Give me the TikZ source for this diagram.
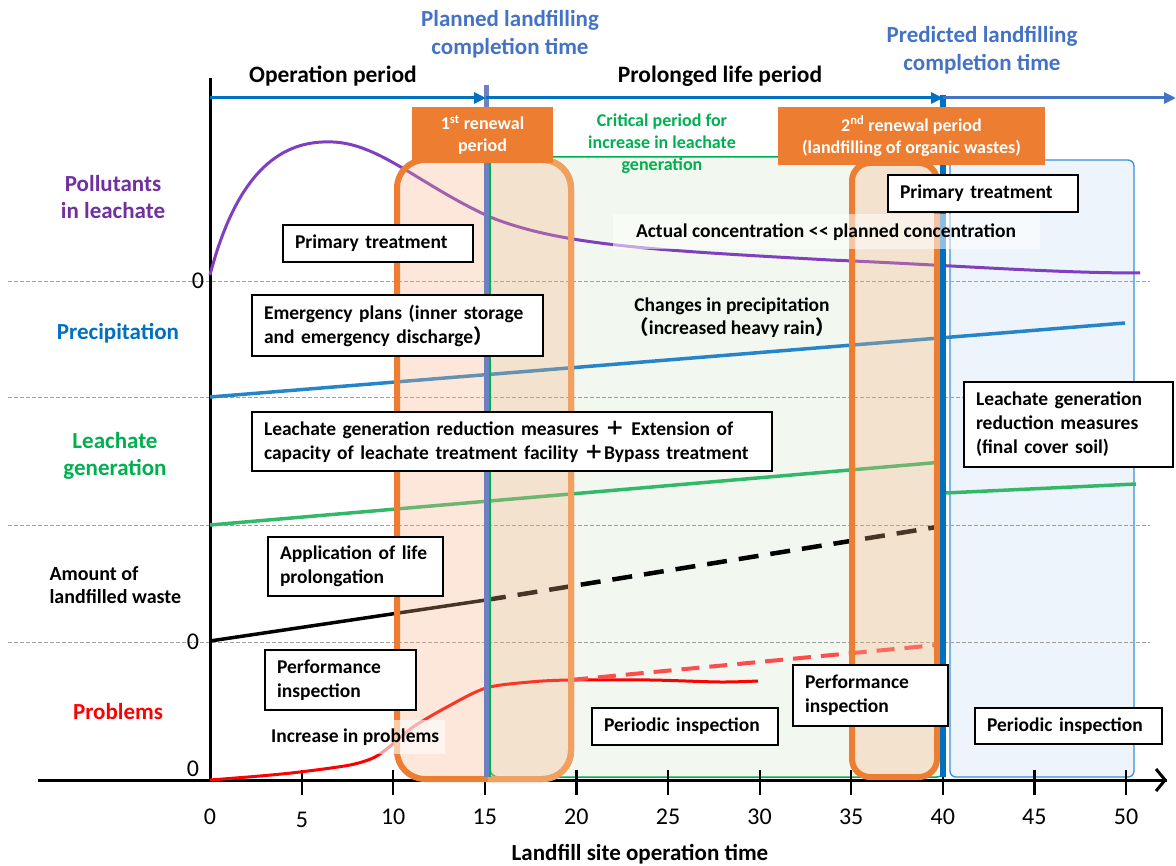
\documentclass[tikz,border=0pt]{standalone}
\usepackage{fontspec}
\setmainfont{Carlito}
\newfontfamily\cjk{Noto Sans CJK JP}
\usetikzlibrary{arrows.meta}
\definecolor{orng}{HTML}{ED7D31}
\definecolor{orngl}{HTML}{F0A060}
\definecolor{orngfill}{HTML}{F4B183}
\definecolor{blu}{HTML}{0070C0}
\definecolor{blut}{HTML}{4472C4}
\definecolor{purp}{HTML}{7030A0}
\definecolor{purpl}{HTML}{7F3FBF}
\definecolor{grn}{HTML}{00B050}
\definecolor{grnl}{HTML}{33B86A}
\definecolor{slate}{HTML}{6E80C2}
\definecolor{critfill}{HTML}{F2F8EF}
\definecolor{bluefill}{HTML}{EEF4FB}
\definecolor{blueedge}{HTML}{3A8EDA}
\newcommand\fsz[2]{\fontsize{#1}{#2}\selectfont}
\tikzset{
  box/.style={draw=black, line width=1.3pt, fill=white, font=\fsz{19.5}{24}\bfseries, inner xsep=12pt, inner ysep=2pt, align=left},
  cat/.style={font=\fsz{23}{27}\bfseries, align=center},
  ttl/.style={font=\fsz{23}{28}\bfseries, align=center, text=blut},
  hdr/.style={fill=orng, text=white, font=\fsz{18}{22}\bfseries, align=center, inner sep=0pt},
  tick/.style={font=\fsz{24}{26}},
  gl/.style={gray!75, line width=0.8pt, dash pattern=on 4pt off 2pt},
}
\begin{document}
\begin{tikzpicture}[x=1pt,y=-1pt]
\path[use as bounding box] (0,0) rectangle (1176,866);
% background regions
\draw[grn, line width=1.5pt, fill=critfill, rounded corners=8pt] (490,157) rectangle (945,777);
\draw[blueedge, line width=1.3pt, fill=bluefill, rounded corners=6pt] (950,160) rectangle (1134,777);
% dashed guide lines
\foreach \yy in {281,397,525,642} \draw[gl] (8,\yy) -- (1150,\yy);
% axes
\coordinate (o) at (210,780);
\coordinate (xend) at (1167,780);
\coordinate (ytop) at (210,78);
\draw[line width=3pt] (38,780) -- (xend);
\draw[line width=3pt, -{Straight Barb[length=9pt,width=22pt,line width=3pt]}] (1100,780) -- (xend);
\draw[line width=3pt] (o) -- (ytop);
\foreach \t in {5,10,...,50} \draw[line width=2.2pt] ({210+18.32*\t},770) -- ({210+18.32*\t},795);
\foreach \t in {0,10,15,20,25,30,35,40,45,50} \node[tick] (t\t) at ({210+18.32*\t},817) {\t};
\node[tick] (t5) at (302,820) {5};
\node[font=\fsz{23}{26}\bfseries] (xlab) at (640,854) {Landfill site operation time};
% zeros
\node[tick] (z1) at (198,281) {0};
\node[tick] (z2) at (193,642) {0};
\node[tick] (z3) at (193,769) {0};
% curves
\draw[purpl, line width=3pt] (210,275) .. controls (240,160) and (290,140) .. (333,142) .. controls (380,144) and (420,185) .. (490,217) .. controls (560,245) and (650,250) .. (830,260) .. controls (950,265) and (1050,273) .. (1140,273);
\draw[blu!85!white, line width=3.5pt] (210,397) -- (1125,323);
\draw[grnl, line width=3.5pt] (210,525) -- (943,462);
\draw[grnl, line width=3.5pt] (945,493) -- (1136,484);
\draw[black, line width=3.5pt] (210,641) -- (486,600);
\draw[black, line width=4.5pt, dash pattern=on 20pt off 12pt] (486,600) -- (943,526);
\draw[red, line width=3pt] plot[smooth, tension=0.5] coordinates {(210,780) (260,776) (300,772) (350,765) (375,757) (394,743) (413,727) (447,707) (486,688) (530,682) (570,680) (650,680) (720,682) (758,681)};
\draw[red!70!white, line width=4pt, dash pattern=on 18pt off 10pt] (570,680) -- (937,645);
% orange rounded rects
\fill[orngfill, fill opacity=0.3, rounded corners=28pt] (397,160) rectangle (571,779);
\fill[orngfill, fill opacity=0.3, rounded corners=18pt] (852,163) rectangle (937,777);
\draw[orng, line width=6pt, rounded corners=28pt] (397,160) rectangle (571,779);
\begin{scope}
\clip (488,140) rectangle (600,800);
\draw[orngl, line width=6pt, rounded corners=28pt] (397,160) rectangle (571,779);
\end{scope}
\draw[orng, line width=6pt, rounded corners=18pt] (852,163) rectangle (937,777);
% vertical period lines
\draw[slate, line width=5pt] (486,85) -- (486,777);
\draw[grn, line width=1.5pt] (490,157) -- (490,777);
\draw[blu, line width=6pt] (943,95) -- (943,777);
% top arrows
\coordinate (a0) at (210,98);
\coordinate (a1) at (486,98);
\coordinate (a2) at (943,98);
\coordinate (a3) at (1176,98);
\draw[blu, line width=3pt, -{Triangle[length=12pt,width=11pt]}] (a0) -- (a1);
\draw[blu, line width=3pt, -{Triangle[length=12pt,width=11pt]}] (a1) -- (a2);
\draw[blut, line width=3pt, -{Triangle[length=12pt,width=11pt]}] (a2) -- (a3);
% titles
\node[font=\fsz{23.5}{26}\bfseries] (op) at (333,76) {Operation period};
\node[font=\fsz{23.5}{26}\bfseries] (pl) at (720,76) {Prolonged life period};
\node[ttl] (plan) at (510,34) {Planned landfilling\\completion time};
\node[ttl] (pred) at (982,50) {Predicted landfilling\\completion time};
% headers
\node[hdr, minimum width=141pt, minimum height=56pt] (h1) at (482.5,135) {1\textsuperscript{st} renewal\\period};
\node[hdr, minimum width=267pt, minimum height=58pt] (h2) at (911.5,136) {2\textsuperscript{nd} renewal period\\(landfilling of organic wastes)};
\node[font=\fsz{18}{22}\bfseries, text=grn, align=center] (crit) at (662,144) {Critical period for\\increase in leachate\\generation};
% category labels
\node[cat, text=purp] (pol) at (113,197) {Pollutants\\in leachate};
\node[cat, text=blu] (prec) at (118,333) {Precipitation};
\node[cat, text=grn] (lea) at (115,456) {Leachate\\generation};
\node[font=\fsz{20}{23}\bfseries, align=left, anchor=west] (amt) at (46,585) {Amount of\\landfilled waste};
\node[cat, text=red] (prob) at (118,712) {Problems};
% boxes
\node[box, text width=166pt, minimum height=37pt] (b1) at (378,243.5) {Primary treatment};
\node[box, text width=267pt, minimum height=61pt] (b2) at (397.5,325.5) {Emergency plans (inner storage\\and emergency discharge{\cjk ）}};
\node[box, text width=496pt, minimum height=59pt] (b3) at (512,441.5) {Leachate generation reduction measures {\cjk ＋} Extension of\\capacity of leachate treatment facility {\cjk ＋}Bypass treatment};
\node[box, text width=151pt, minimum height=59pt] (b4) at (355.5,566.5) {Application of life\\prolongation};
\node[box, text width=127pt, minimum height=60pt] (b5) at (340.5,680) {Performance\\inspection};
\node[box, text width=162pt, minimum height=37pt] (b7) at (685,726.5) {Periodic inspection};
\node[box, text width=131pt, minimum height=61pt] (b8) at (870.5,695.5) {Performance\\inspection};
\node[box, text width=163pt, minimum height=36pt] (b9) at (1068.5,726) {Periodic inspection};
\node[box, text width=166pt, minimum height=37pt] (b10) at (983,193.5) {Primary treatment};
\node[box, text width=185pt, minimum height=85pt] (b11) at (1068.5,424.5) {Leachate generation\\reduction measures\\(final cover soil)};
% free labels
\node[fill=white, fill opacity=0.6, text opacity=1, font=\fsz{19.5}{22}\bfseries, anchor=west, inner xsep=6pt, minimum height=34pt] (inc) at (265,737) {Increase in problems};
\node[fill=white, fill opacity=0.55, text opacity=1, font=\fsz{19.5}{22}\bfseries, minimum width=427pt, minimum height=35pt] (act) at (826,232) {Actual concentration <\kern0.5pt< planned concentration};
\node[font=\fsz{19.5}{23}\bfseries, align=center] (chg) at (732,318) {Changes in precipitation\\{\cjk （}increased heavy rain{\cjk ）}};
\end{tikzpicture}
\end{document}
